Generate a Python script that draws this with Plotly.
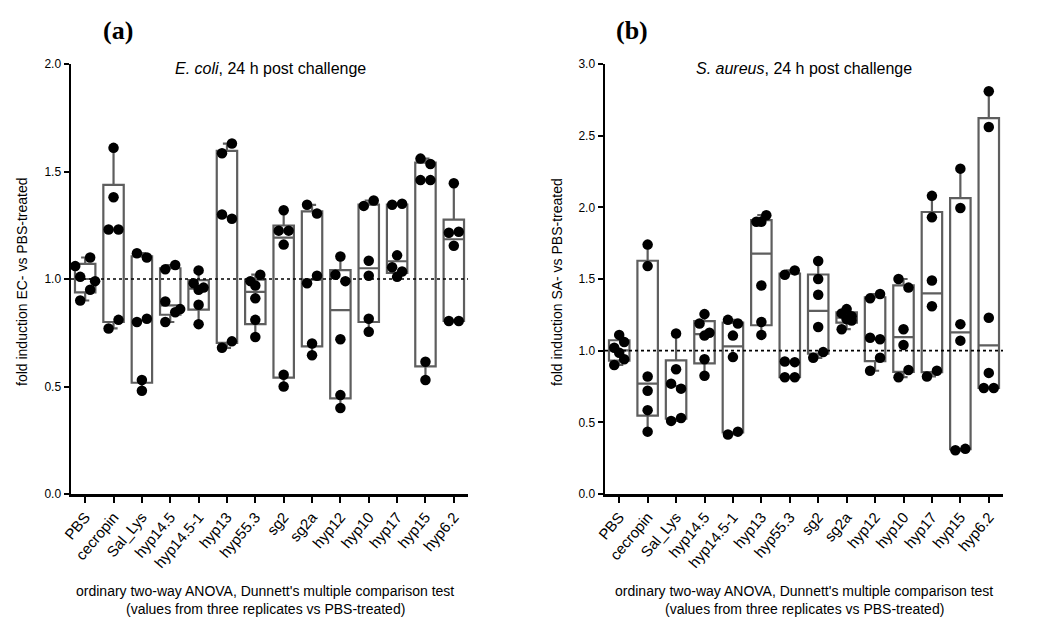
import numpy as np
import plotly.graph_objects as go

CATEGORIES = ["PBS", "cecropin", "Sal_Lys", "hyp14.5", "hyp14.5-1", "hyp13", "hyp55.3",
              "sg2", "sg2a", "hyp12", "hyp10", "hyp17", "hyp15", "hyp6.2"]

# fold induction, E. coli (panel a) - six values per group
EC_VALUES = [
    [1.06, 1.10, 1.01, 0.99, 0.95, 0.90],
    [1.61, 1.38, 1.23, 1.23, 0.81, 0.77],
    [1.12, 1.10, 0.80, 0.815, 0.53, 0.48],
    [1.045, 1.065, 0.895, 0.86, 0.845, 0.80],
    [1.04, 0.98, 0.96, 0.95, 0.88, 0.79],
    [1.63, 1.585, 1.30, 1.28, 0.71, 0.68],
    [1.02, 0.99, 0.97, 0.91, 0.81, 0.73],
    [1.32, 1.225, 1.225, 1.16, 0.555, 0.50],
    [1.345, 1.305, 1.015, 0.98, 0.70, 0.645],
    [1.105, 1.02, 0.99, 0.72, 0.46, 0.40],
    [1.365, 1.34, 1.085, 1.015, 0.815, 0.755],
    [1.35, 1.345, 1.11, 1.055, 1.035, 1.01],
    [1.56, 1.535, 1.46, 1.46, 0.615, 0.53],
    [1.445, 1.22, 1.215, 1.155, 0.805, 0.805],
]
EC_SLOTS = [
    [-2, 1, -1, 2, 1, -1],
    [0, 0, -1, 1, 1, -1],
    [-1, 1, -1, 1, 0, 0],
    [-1, 1, -1, 2, 1, -1],
    [0, -1, 1, 0, 0, 0],
    [1, -1, -1, 1, 1, -1],
    [1, -1, 0, 0, 0, 0],
    [0, -1, 1, 0, 0, 0],
    [-1, 1, 1, -1, 0, 0],
    [0, -1, 1, 0, 0, 0],
    [1, -1, 0, 0, 0, 0],
    [1, -1, 0, -1, 1, 0],
    [-1, 1, -1, 1, 0, 0],
    [0, 1, -1, 0, -1, 1],
]

# fold induction, S. aureus (panel b)
SA_VALUES = [
    [1.11, 1.06, 1.02, 0.985, 0.94, 0.90],
    [1.74, 1.59, 0.82, 0.72, 0.585, 0.435],
    [1.12, 0.87, 0.77, 0.735, 0.51, 0.53],
    [1.255, 1.19, 1.125, 1.105, 0.94, 0.825],
    [1.215, 1.19, 1.105, 0.955, 0.415, 0.435],
    [1.945, 1.90, 1.90, 1.455, 1.20, 1.11],
    [1.56, 1.53, 0.925, 0.92, 0.815, 0.815],
    [1.625, 1.50, 1.39, 1.165, 0.99, 0.95],
    [1.29, 1.26, 1.24, 1.22, 1.21, 1.15],
    [1.395, 1.365, 1.09, 1.08, 0.95, 0.86],
    [1.50, 1.44, 1.15, 1.04, 0.865, 0.815],
    [2.08, 1.93, 1.49, 1.31, 0.86, 0.82],
    [2.27, 1.995, 1.185, 1.07, 0.305, 0.315],
    [2.81, 2.56, 1.23, 0.845, 0.74, 0.74],
]
SA_SLOTS = [
    [0, 1, -1, 0, 1, -1],
    [0, 0, 0, 0, 0, 0],
    [0, 0, -1, 1, -1, 1],
    [0, -1, 1, 0, 0, 0],
    [-1, 1, 0, 0, -1, 1],
    [1, 0, -1, 0, 0, 0],
    [1, -1, -1, 1, -1, 1],
    [0, 0, 0, 0, 1, -1],
    [0, -1, 1, 0, 1, -1],
    [1, -1, -1, 1, 1, -1],
    [-1, 1, 0, 0, 1, -1],
    [0, 0, 0, 0, 1, -1],
    [0, 0, 0, 0, -1, 1],
    [0, 0, 0, 0, -1, 1],
]

W, H = 1045, 619
FONT = "Liberation Sans, Arial, sans-serif"
BOXCOL = "#5e5e5e"
SLOT = 0.175

fig = go.Figure()


def add_panel(values, slots, xa, ya):
    pos = list(range(len(CATEGORIES)))
    arr = [np.array(v) for v in values]
    q1 = [float(np.percentile(a, 25, method="weibull")) for a in arr]
    q3 = [float(np.percentile(a, 75, method="weibull")) for a in arr]
    med = [float(np.median(a)) for a in arr]
    lo = [float(a.min()) for a in arr]
    hi = [float(a.max()) for a in arr]
    fig.add_trace(go.Box(
        x=pos, q1=q1, median=med, q3=q3, lowerfence=lo, upperfence=hi,
        width=0.72, whiskerwidth=0.4, boxpoints=False,
        line=dict(color=BOXCOL, width=2.2), fillcolor="rgba(255,255,255,0)",
        xaxis=xa, yaxis=ya, showlegend=False, hoverinfo="skip"))
    xs, ys = [], []
    for i, (v, s) in enumerate(zip(values, slots)):
        for val, sl in zip(v, s):
            xs.append(i + sl * SLOT)
            ys.append(val)
    fig.add_trace(go.Scatter(
        x=xs, y=ys, mode="markers",
        marker=dict(color="black", size=10.5, line=dict(width=0)),
        xaxis=xa, yaxis=ya, showlegend=False, hoverinfo="skip"))


add_panel(EC_VALUES, EC_SLOTS, "x", "y")
add_panel(SA_VALUES, SA_SLOTS, "x2", "y2")

y_top = 1 - 64 / H
y_bot = 1 - 494 / H

xcommon = dict(
    range=[-0.5, 13.5], tickmode="array", tickvals=list(range(14)), ticktext=CATEGORIES,
    tickangle=-50, showline=True, linecolor="black", linewidth=2.5, ticks="outside",
    ticklen=6, tickwidth=2, tickcolor="black", showgrid=False, zeroline=False,
    tickfont=dict(family=FONT, size=15, color="black"), automargin=False, fixedrange=True)
ycommon = dict(
    showline=True, linecolor="black", linewidth=2.5, ticks="outside", ticklen=5,
    tickwidth=2, tickcolor="black", showgrid=False, zeroline=False, tickformat=".1f",
    tickfont=dict(family=FONT, size=12, color="black"), automargin=False, fixedrange=True)

fig.update_layout(
    width=W, height=H, paper_bgcolor="white", plot_bgcolor="white",
    margin=dict(l=0, r=0, t=0, b=0),
    xaxis=dict(domain=[71 / W, 468 / W], anchor="y", **xcommon),
    yaxis=dict(domain=[y_bot, y_top], anchor="x", range=[0, 2.0], dtick=0.5, **ycommon),
    xaxis2=dict(domain=[605 / W, 1003 / W], anchor="y2", **xcommon),
    yaxis2=dict(domain=[y_bot, y_top], anchor="x2", range=[0, 3.0], dtick=0.5, **ycommon),
)

# dotted reference lines at 1.0
for xr, yr in (("x", "y"), ("x2", "y2")):
    fig.add_shape(type="line", xref=xr, yref=yr, x0=-0.5, x1=13.5, y0=1, y1=1,
                  line=dict(color="black", width=1.6, dash="dot"), layer="above")


def px_ann(text, x, y, size, **kw):
    fam = kw.pop("family", FONT)
    fig.add_annotation(text=text, xref="paper", yref="paper", x=x / W, y=1 - y / H,
                       xanchor="center", yanchor="middle", showarrow=False,
                       font=dict(family=fam, size=size, color="black"), **kw)


px_ann("<b>(a)</b>", 118, 30, 26, family="Liberation Serif, serif")
px_ann("<b>(b)</b>", 632, 30, 26, family="Liberation Serif, serif")
px_ann("<i>E. coli</i>, 24 h post challenge", 270, 68, 16)
px_ann("<i>S. aureus</i>, 24 h post challenge", 804, 68, 16)
px_ann("fold induction EC- vs PBS-treated", 22, 282, 14, textangle=-90)
px_ann("fold induction SA- vs PBS-treated", 557, 282, 14, textangle=-90)
LINE1 = "ordinary two-way ANOVA, Dunnett's multiple comparison test"
LINE2 = "(values from three replicates vs PBS-treated)"
for cx in (265, 804):
    px_ann(LINE1, cx, 591, 14)
    px_ann(LINE2, cx, 609, 14)

fig.write_html("out.html", config={"displayModeBar": False, "staticPlot": True},
               post_script="document.body.style.margin='0';document.body.style.overflow='hidden';")
